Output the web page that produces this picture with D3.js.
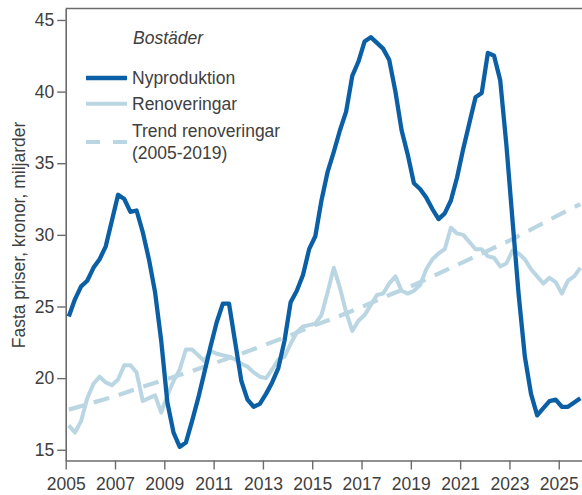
<!DOCTYPE html>
<html><head><meta charset="utf-8">
<script src="https://cdn.jsdelivr.net/npm/d3@7"></script>
<style>
body{margin:0;background:#fff}
svg{display:block}
text{font-family:"Liberation Sans",Arial,Helvetica,sans-serif}
</style>
</head><body>
<svg id="chart" width="582" height="495"></svg>
<script>
// ---- data (quarterly, 2005K1 .. 2025K4) ----
const startYear = 2005;
const nyproduktion = [
  24.3,25.5,26.4,26.8, 27.7,28.3,29.2,31.0, 32.8,32.5,31.6,31.7, 30.2,28.3,26.0,22.6,
  18.3,16.2,15.2,15.5, 17.0,18.6,20.4,22.2, 23.9,25.2,25.2,22.5, 19.8,18.5,18.0,18.2,
  18.9,19.7,20.7,22.6, 25.3,26.1,27.2,29.0, 29.9,32.4,34.4,35.8, 37.3,38.6,41.1,42.1,
  43.5,43.8,43.4,43.0, 42.2,40.0,37.3,35.6, 33.6,33.2,32.6,31.8, 31.1,31.5,32.4,34.0,
  36.0,37.8,39.6,39.9, 42.7,42.5,40.8,36.3, 31.0,25.8,21.5,18.9, 17.4,17.9,18.4,18.5,
  18.0,18.0,18.3,18.6
];
const renoveringar = [
  16.7,16.2,17.0,18.6, 19.6,20.1,19.7,19.5, 19.9,20.9,20.9,20.4, 18.4,18.6,18.8,17.6,
  18.8,19.8,20.6,22.0, 22.0,21.6,21.2,21.9, 21.7,21.6,21.5,21.3, 21.0,20.8,20.4,20.1,
  20.0,20.6,21.3,21.5, 22.4,23.2,23.6,23.7, 23.8,24.4,26.0,27.7, 26.3,24.6,23.3,24.0,
  24.4,25.1,25.8,25.9, 26.6,27.1,26.1,25.9, 26.1,26.5,27.6,28.3, 28.7,29.0,30.5,30.1,
  30.0,29.5,29.0,29.0, 28.5,28.4,27.8,28.0, 28.9,28.7,28.3,27.6, 27.1,26.6,27.0,26.7,
  25.9,26.8,27.1,27.7
];
// trend line (2005-2019) read at the first quarter of each year + end point
const trendTime = [2005.125,2006.125,2007.125,2008.125,2009.125,2010.125,2011.125,2012.125,
  2013.125,2014.125,2015.125,2016.125,2017.125,2018.125,2019.125,2020.125,2021.125,2022.125,
  2023.125,2024.125,2025.125,2025.875];
const trendValues = [17.8,18.3,18.8,19.4,19.95,20.5,21.1,21.7,22.35,23.0,23.7,24.35,25.05,
  25.8,26.5,27.3,28.1,28.9,29.7,30.6,31.5,32.15];

const xTicks = [2005,2007,2009,2011,2013,2015,2017,2019,2021,2023,2025];
const yTicks = [15,20,25,30,35,40,45];
const legendTitle = "Bostäder";
const seriesNames = ["Nyproduktion","Renoveringar","Trend renoveringar","(2005-2019)"];
const yTitle = "Fasta priser, kronor, miljarder";

// quarter mid-points
const quarterTime = nyproduktion.map((d,i)=> startYear + Math.floor(i/4) + (i%4)*0.25 + 0.125);

// ---- styles ----
const darkBlue = "#0b5fa5";
const lightBlue = "#bad6e3";
const textCol = "#404040";
const axisCol = "#6b6b6b";
const fs = "17.5px";

const svg = d3.select("#chart");
const x = d3.scaleLinear().domain([2005, 2026]).range([65.7, 583.4]);
const y = d3.scaleLinear().domain([14.25, 45.8]).range([460.5, 8.5]);

// axes
const gy = svg.append("g").attr("transform", `translate(${x.range()[0]},0)`)
  .call(d3.axisLeft(y).tickValues(yTicks).tickSize(8.5).tickSizeOuter(0).tickPadding(3));
const gx = svg.append("g").attr("transform", `translate(0,${y.range()[0]})`)
  .call(d3.axisBottom(x).tickValues(xTicks).tickFormat(d3.format("d")).tickSize(9).tickSizeOuter(0).tickPadding(8));
[gx, gy].forEach(g=>{
  g.selectAll("path.domain").attr("stroke", axisCol).attr("stroke-width", 1.6);
  g.selectAll(".tick line").attr("stroke", axisCol).attr("stroke-width", 1.4);
  g.selectAll(".tick text").attr("fill", textCol).style("font-size", fs)
    .style("font-family", '"Liberation Sans",Arial,sans-serif');
});
// top frame
svg.append("line").attr("x1", x.range()[0]).attr("x2", x.range()[1])
  .attr("y1", y.range()[1]).attr("y2", y.range()[1])
  .attr("stroke", axisCol).attr("stroke-width", 1.6);

// y title
svg.append("text").attr("transform", "translate(25,235) rotate(-90)")
  .attr("text-anchor", "middle").attr("fill", textCol).style("font-size", fs)
  .text(yTitle);

// lines
const line = d3.line().x(d=>x(d[0])).y(d=>y(d[1]));
svg.append("path").datum(trendTime.map((t,i)=>[t, trendValues[i]]))
  .attr("d", line).attr("fill","none").attr("stroke", lightBlue).attr("stroke-width", 4.2)
  .attr("stroke-dasharray", "16,10");
svg.append("path").datum(quarterTime.map((t,i)=>[t, renoveringar[i]]))
  .attr("d", line).attr("fill","none").attr("stroke", lightBlue).attr("stroke-width", 4)
  .attr("stroke-linejoin","round");
svg.append("path").datum(quarterTime.map((t,i)=>[t, nyproduktion[i]]))
  .attr("d", line).attr("fill","none").attr("stroke", darkBlue).attr("stroke-width", 4.3)
  .attr("stroke-linejoin","round");

// legend
const lg = svg.append("g");
lg.append("text").attr("x", 133).attr("y", 43.5).attr("fill", textCol)
  .style("font-size", fs).style("font-style","italic").text(legendTitle);
const items = [
  {y: 78, color: darkBlue, dash: null, w: 4.3, labels:[seriesNames[0]], ty:[83.7]},
  {y: 103.7, color: lightBlue, dash: null, w: 4, labels:[seriesNames[1]], ty:[110]},
  {y: 142, color: lightBlue, dash: "14,13", w: 4.2, labels:[seriesNames[2], seriesNames[3]], ty:[136.7, 159]}
];
items.forEach(it=>{
  const l = lg.append("line").attr("x1",86).attr("x2",127).attr("y1",it.y).attr("y2",it.y)
    .attr("stroke", it.color).attr("stroke-width", it.w);
  if (it.dash) l.attr("stroke-dasharray", it.dash);
  it.labels.forEach((t,j)=>{
    lg.append("text").attr("x",132).attr("y",it.ty[j]).attr("fill",textCol)
      .style("font-size", fs).text(t);
  });
});
</script>
</body></html>
